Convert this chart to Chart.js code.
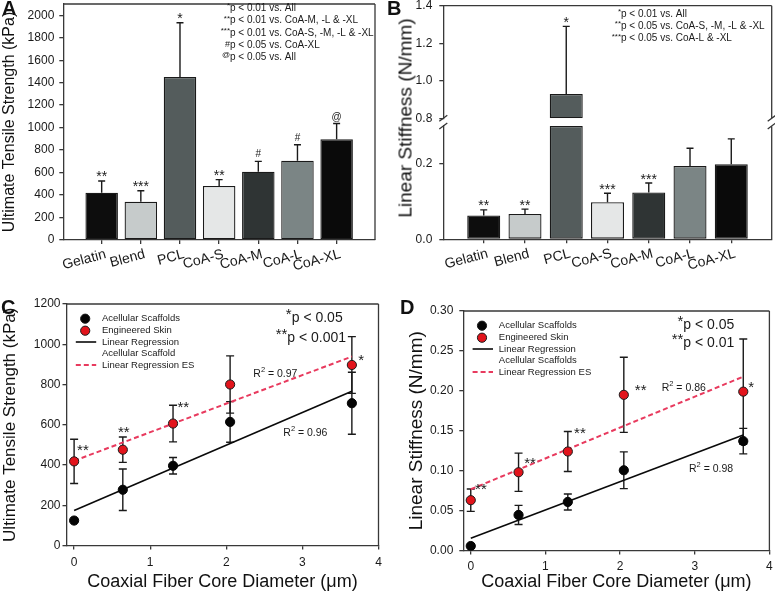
<!DOCTYPE html>
<html lang="en">
<head>
<meta charset="UTF-8">
<title>Coaxial fiber scaffolds - mechanics</title>
<script src="https://cdn.jsdelivr.net/npm/chart.js"></script>
<style>
  body { margin: 0; background: #fff; font-family: 'Liberation Sans', Arial, Helvetica, sans-serif; }
  #fig { position: relative; width: 775px; height: 596px; overflow: hidden; }
  #fig canvas { position: absolute; }
  .tag { position: absolute; font-size: 20px; font-weight: bold; line-height: 1; color: #111; }
  .ytitle { position: absolute; font-size: 19px; line-height: 1; color: #111; white-space: nowrap;
            transform: translate(-50%, -50%) rotate(-90deg); }
</style>
</head>
<body>
<div id="fig">
  <canvas id="panelA" width="385" height="298" style="left:0;top:0"></canvas>
  <canvas id="panelBlow" width="390" height="298" style="left:385px;top:0"></canvas>
  <canvas id="panelBup" width="390" height="298" style="left:385px;top:0"></canvas>
  <canvas id="panelC" width="385" height="298" style="left:0;top:298px"></canvas>
  <canvas id="panelD" width="390" height="298" style="left:385px;top:298px"></canvas>
  <div class="tag" style="left:2px;top:-2px">A</div>
  <div class="tag" style="left:387px;top:-2px">B</div>
  <div class="tag" style="left:1px;top:297px">C</div>
  <div class="tag" style="left:400px;top:297px">D</div>
  <div class="ytitle" style="left:405px;top:118px">Linear Stiffness (N/mm)</div>
</div>

<script>
// ---- data ----
const groups = ['Gelatin', 'Blend', 'PCL', 'CoA-S', 'CoA-M', 'CoA-L', 'CoA-XL'];
const barColors = ['#0d0d0d', '#c6cbcb', '#545c5c', '#e5e7e7', '#2f3434', '#7b8585', '#0a0a0a'];

const utsMean = [420, 340, 1450, 480, 607, 705, 897];
const utsSD = [105, 98, 483, 57, 93, 142, 140];
const utsMarks = ['**', '***', '*', '**', '#', '#', '@'];

const stiffMean = [0.063, 0.067, 0.93, 0.098, 0.124, 0.194, 0.199];
const stiffSD = [0.015, 0.013, 0.36, 0.024, 0.025, 0.047, 0.067];
const stiffMarks = ['**', '**', '*', '***', '***', '', ''];

const coreDiam = [0, 0.64, 1.3, 2.05, 3.65];
const fitX = [0, 3.65];

const utsAcell = [124, 277, 396, 614, 707];
const utsAcellSD = [0, 103, 41, 101, 154];
const utsSkin = [418, 476, 606, 800, 897];
const utsSkinSD = [110, 63, 91, 142, 141];
const utsAcellFit = [174, 767];
const utsSkinFit = [421, 939];
const utsSkinMarks = ['**', '**', '**', '', '*'];

const stiffAcell = [0.0056, 0.0445, 0.0608, 0.1005, 0.137];
const stiffAcellSD = [0, 0.012, 0.010, 0.023, 0.016];
const stiffSkin = [0.063, 0.098, 0.124, 0.195, 0.199];
const stiffSkinSD = [0.014, 0.024, 0.025, 0.047, 0.066];
const stiffAcellFit = [0.0153, 0.1447];
const stiffSkinFit = [0.0767, 0.2178];
const stiffSkinMarks = ['**', '**', '**', '**', '*'];

// ---- look ----
const FONT = "'Liberation Sans', Arial, Helvetica, sans-serif";
const INK = '#1a1a1a';
const AXIS_INK = '#383838';
const RED = '#e2141c';
const RED_LINE = '#e83a5e';

Chart.defaults.font.family = FONT;
Chart.defaults.color = INK;
Chart.defaults.animation = false;
Chart.defaults.responsive = false;
Chart.defaults.plugins.legend.display = false;
Chart.defaults.plugins.tooltip.enabled = false;

const pts = (xs, ys) => xs.map((x, i) => ({ x: x, y: ys[i] }));
const isStars = t => /^\*+$/.test(t);

// error bars drawn through the chart scales
const errorBars = {
  id: 'errorBars',
  beforeDatasetsDraw(chart, args, o) {
    const { ctx } = chart;
    const xs = chart.scales.x, ys = chart.scales.y;
    ctx.save();
    ctx.strokeStyle = INK;
    ctx.lineWidth = 1.4;
    (o.sets || []).forEach(s => {
      s.mean.forEach((m, i) => {
        const sd = s.sd[i];
        if (!sd || m < ys.min || m > ys.max) return;
        const x = xs.getPixelForValue(s.x[i]);
        const yHi = ys.getPixelForValue(m + sd);
        const yLo = ys.getPixelForValue(s.upOnly ? m : m - sd);
        ctx.beginPath();
        ctx.moveTo(x, yLo); ctx.lineTo(x, yHi);
        ctx.moveTo(x - o.cap, yHi); ctx.lineTo(x + o.cap, yHi);
        if (!s.upOnly) { ctx.moveTo(x - o.cap, yLo); ctx.lineTo(x + o.cap, yLo); }
        ctx.stroke();
      });
    });
    ctx.restore();
  }
};

// significance marks (asterisks etc.) placed from data values
const textMarks = {
  id: 'textMarks',
  afterDatasetsDraw(chart, args, o) {
    const { ctx } = chart;
    const xs = chart.scales.x, ys = chart.scales.y;
    ctx.save();
    ctx.fillStyle = INK;
    ctx.textBaseline = 'alphabetic';
    (o.items || []).forEach(it => {
      if (!it.text || it.at < ys.min || it.at > ys.max) return;
      const size = isStars(it.text) ? o.starSize : o.symSize;
      ctx.font = size + 'px ' + FONT;
      ctx.textAlign = it.align || 'center';
      const x = xs.getPixelForValue(it.x) + (it.dx || 0);
      const y = ys.getPixelForValue(it.y) + (it.dy || 0);
      ctx.fillText(it.text, x, y + (isStars(it.text) ? 0.57 : 0.36) * size);
    });
    ctx.restore();
  }
};

// free text lines made of parts [text, size, raise]
const notes = {
  id: 'notes',
  afterDraw(chart, args, o) {
    const { ctx } = chart;
    ctx.save();
    ctx.fillStyle = INK;
    ctx.textBaseline = 'middle';
    ctx.textAlign = 'left';
    (o.lines || []).forEach(l => {
      let w = 0;
      l.parts.forEach((p, k) => {
        if (k < (l.anchor || 0)) { ctx.font = p[1] + 'px ' + FONT; w += ctx.measureText(p[0]).width; }
      });
      let x = l.x - w;
      l.parts.forEach(p => {
        ctx.font = p[1] + 'px ' + FONT;
        ctx.fillText(p[0], x, l.y - (p[2] || 0));
        x += ctx.measureText(p[0]).width;
      });
    });
    ctx.restore();
  }
};

// box around the plot, with optional axis break marks
const frame = {
  id: 'frame',
  afterDatasetsDraw(chart, args, o) {
    const { ctx, chartArea: a } = chart;
    ctx.save();
    ctx.strokeStyle = AXIS_INK;
    ctx.lineWidth = 1.3;
    ctx.beginPath();
    if (o.top) { ctx.moveTo(a.left, a.top); ctx.lineTo(a.right, a.top); }
    ctx.moveTo(a.right, a.top); ctx.lineTo(a.right, a.bottom);
    if (o.breakAt) {
      const y = o.breakAt === 'top' ? a.top : a.bottom;
      [a.left, a.right].forEach(x => { ctx.moveTo(x - 4, y + 3); ctx.lineTo(x + 4, y - 3); });
    }
    ctx.stroke();
    ctx.restore();
  }
};

// legend inside plot area
const legendBox = {
  id: 'legendBox',
  afterDatasetsDraw(chart, args, o) {
    if (!o.rows) return;
    const { ctx, chartArea: a } = chart;
    ctx.save();
    ctx.textBaseline = 'middle';
    ctx.textAlign = 'left';
    o.rows.forEach((r, k) => {
      const y = a.top + o.rowY[k];
      if (r.marker) {
        ctx.beginPath();
        ctx.arc(a.left + o.markX, y, 4.6, 0, Math.PI * 2);
        ctx.fillStyle = r.marker; ctx.fill();
        ctx.lineWidth = 1; ctx.strokeStyle = INK; ctx.stroke();
      }
      if (r.line) {
        ctx.beginPath();
        ctx.setLineDash(r.dash || []);
        ctx.strokeStyle = r.line; ctx.lineWidth = r.width;
        ctx.moveTo(a.left + o.lineX[0], y); ctx.lineTo(a.left + o.lineX[1], y);
        ctx.stroke();
        ctx.setLineDash([]);
      }
      ctx.font = o.size + 'px ' + FONT;
      ctx.fillStyle = INK;
      ctx.fillText(r.text, a.left + o.textX, y);
    });
    ctx.restore();
  }
};

// scales keep the exact size given, no extra label overhang padding
function fixWidth(w) {
  return s => { s.width = w; s.paddingTop = 0; s.paddingBottom = 0; };
}
function fixHeight(h) {
  return s => { s.height = h; s.paddingLeft = 0; s.paddingRight = 0; };
}

function valueAxis(o) {
  return {
    type: 'linear', min: o.min, max: o.max,
    border: { color: AXIS_INK, width: 1.3 },
    grid: { drawOnChartArea: false, tickLength: 4, color: AXIS_INK, lineWidth: 1.3 },
    ticks: { stepSize: o.step, includeBounds: false, padding: o.pad, color: INK, font: { size: 12 }, callback: o.fmt },
    title: o.title
      ? { display: true, text: o.title, color: '#111', font: { size: o.titleSize }, padding: { top: o.titlePad, bottom: 0 } }
      : { display: false },
    afterFit: fixWidth(o.width)
  };
}

function groupAxis(height) {
  return {
    type: 'linear', min: -0.98, max: 6.98, offset: false,
    border: { color: AXIS_INK, width: 1.3 },
    grid: { offset: false, drawOnChartArea: false, tickLength: 4, color: AXIS_INK, lineWidth: 1.3 },
    ticks: {
      stepSize: 1, includeBounds: false, autoSkip: false, minRotation: 15, maxRotation: 15,
      padding: 2, labelOffset: 4, color: INK, font: { size: 14 }, callback: v => groups[Math.round(v)] || ''
    },
    afterFit: fixHeight(height)
  };
}

function diamAxis(height, pad) {
  return {
    type: 'linear', min: -0.1, max: 4,
    border: { color: AXIS_INK, width: 1.3 },
    grid: { drawOnChartArea: false, tickLength: 4, color: AXIS_INK, lineWidth: 1.3 },
    ticks: { stepSize: 1, includeBounds: false, padding: pad, color: INK, font: { size: 12 }, callback: v => String(v) },
    title: { display: true, text: 'Coaxial Fiber Core Diameter (\u03bcm)', color: '#111', font: { size: 18 }, padding: { top: 0, bottom: 3.5 } },
    afterFit: fixHeight(height)
  };
}

const groupIdx = groups.map((g, i) => i);
const barMarkItems = (mean, sd, marks) => groups.map((g, i) => ({ x: i, y: mean[i] + sd[i], at: mean[i], text: marks[i], dy: -7.5 }));

// ---- A: ultimate tensile strength bars ----
new Chart(document.getElementById('panelA'), {
  type: 'bar',
  data: {
    datasets: [{
      data: pts(groupIdx, utsMean),
      backgroundColor: barColors, borderColor: INK, borderWidth: 1.3, borderSkipped: false,
      barPercentage: 0.83, categoryPercentage: 1
    }]
  },
  options: {
    layout: { padding: { top: 4, right: 10, left: 0, bottom: 0 } },
    scales: {
      x: groupAxis(58),
      y: valueAxis({ min: 0, max: 2100, step: 200, pad: 5, width: 63.3, fmt: v => String(v),
                     title: 'Ultimate Tensile Strength (kPa)', titleSize: 16, titlePad: 0.4 })
    },
    plugins: {
      errorBars: { cap: 3.5, sets: [{ x: groupIdx, mean: utsMean, sd: utsSD, upOnly: true }] },
      textMarks: { starSize: 14, symSize: 10, items: barMarkItems(utsMean, utsSD, utsMarks) },
      notes: {
        lines: [
          { x: 230, y: 8, anchor: 1, parts: [['*', 8, 2], ['p < 0.01 vs. All', 10]] },
          { x: 230, y: 20.5, anchor: 1, parts: [['**', 8, 2], ['p < 0.01 vs. CoA-M, -L & -XL', 10]] },
          { x: 230, y: 33, anchor: 1, parts: [['***', 8, 2], ['p < 0.01 vs. CoA-S, -M, -L & -XL', 10]] },
          { x: 230, y: 45, anchor: 1, parts: [['#', 9, 0], ['p < 0.05 vs. CoA-XL', 10]] },
          { x: 230, y: 57, anchor: 1, parts: [['@', 8, 2], ['p < 0.05 vs. All', 10]] }
        ]
      },
      frame: { top: true }
    }
  },
  plugins: [errorBars, textMarks, notes, frame]
});

// ---- B: linear stiffness bars, broken axis (lower part) ----
const lowMax = 0.3;
const highMin = 0.8;
new Chart(document.getElementById('panelBlow'), {
  type: 'bar',
  data: {
    datasets: [{
      data: pts(groupIdx, stiffMean.map(v => Math.min(v, lowMax))),
      backgroundColor: barColors, borderColor: INK, borderWidth: 1.3, borderSkipped: false,
      barPercentage: 0.8, categoryPercentage: 1
    }]
  },
  options: {
    layout: { padding: { top: 126, right: 3.3, left: 0, bottom: 0 } },
    scales: {
      x: groupAxis(58.7),
      y: valueAxis({ min: 0, max: lowMax, step: 0.2, pad: 7, width: 58.3, fmt: v => v.toFixed(1) })
    },
    plugins: {
      errorBars: { cap: 3.5, sets: [{ x: groupIdx, mean: stiffMean, sd: stiffSD, upOnly: true }] },
      textMarks: { starSize: 14, symSize: 10, items: barMarkItems(stiffMean, stiffSD, stiffMarks) },
      frame: { top: false, breakAt: 'top' }
    }
  },
  plugins: [errorBars, textMarks, frame]
});

// ---- B: upper part of the broken axis ----
new Chart(document.getElementById('panelBup'), {
  type: 'bar',
  data: {
    datasets: [{
      data: groupIdx.map(i => ({ x: i, y: stiffMean[i] > highMin ? [highMin, stiffMean[i]] : null })),
      backgroundColor: barColors, borderColor: INK, borderWidth: 1.3, borderSkipped: false,
      barPercentage: 0.8, categoryPercentage: 1
    }]
  },
  options: {
    layout: { padding: { top: 5.7, right: 3.3, left: 0, bottom: 179.7 } },
    scales: {
      x: Object.assign(groupAxis(0), { display: false }),
      y: valueAxis({ min: highMin, max: 1.4, step: 0.2, pad: 7, width: 58.3, fmt: v => v.toFixed(1) })
    },
    plugins: {
      errorBars: { cap: 3.5, sets: [{ x: groupIdx, mean: stiffMean, sd: stiffSD, upOnly: true }] },
      textMarks: { starSize: 14, symSize: 10, items: barMarkItems(stiffMean, stiffSD, stiffMarks) },
      notes: {
        lines: [
          { x: 236, y: 14, anchor: 1, parts: [['*', 8, 2], ['p < 0.01 vs. All', 10]] },
          { x: 236, y: 26, anchor: 1, parts: [['**', 8, 2], ['p < 0.05 vs. CoA-S, -M, -L & -XL', 10]] },
          { x: 236, y: 38.3, anchor: 1, parts: [['***', 8, 2], ['p < 0.05 vs. CoA-L & -XL', 10]] }
        ]
      },
      frame: { top: true, breakAt: 'bottom' }
    }
  },
  plugins: [errorBars, textMarks, notes, frame]
});

// ---- C / D: scatter with regression lines ----
function legendRows(acellText) {
  return [
    { text: 'Acellular Scaffolds', marker: '#050505' },
    { text: 'Engineered Skin', marker: RED },
    { text: 'Linear Regression', line: '#0a0a0a', width: 1.6 },
    { text: acellText },
    { text: 'Linear Regression ES', line: RED_LINE, width: 2, dash: [5, 3] }
  ];
}

function scatterSets(acell, skin, acellFit, skinFit) {
  return [
    { data: pts(coreDiam, acell), pointRadius: 4.6, pointBackgroundColor: '#050505', pointBorderColor: '#050505', pointBorderWidth: 1, order: 0 },
    { data: pts(coreDiam, skin), pointRadius: 4.6, pointBackgroundColor: RED, pointBorderColor: INK, pointBorderWidth: 1, order: 0 },
    { data: pts(fitX, acellFit), showLine: true, pointRadius: 0, borderColor: '#0a0a0a', borderWidth: 1.6, order: 1 },
    { data: pts(fitX, skinFit), showLine: true, pointRadius: 0, borderColor: RED_LINE, borderWidth: 2, borderDash: [5, 3], order: 1 }
  ];
}

const cMarkPlace = [
  { ref: 'top', dx: 3, dy: 7.5, align: 'left' },
  { ref: 'top', dx: 1, dy: -9, align: 'center' },
  { ref: 'top', dx: 4.5, dy: -1.7, align: 'left' },
  null,
  { ref: 'pt', dx: 6.5, dy: -8.5, align: 'left' }
];
const dMarkPlace = [
  { ref: 'top', dx: 4.3, dy: -3.3, align: 'left' },
  { ref: 'top', dx: 5.7, dy: 6, align: 'left' },
  { ref: 'top', dx: 6.3, dy: -2, align: 'left' },
  { ref: 'pt', dx: 11, dy: -8.3, align: 'left' },
  { ref: 'pt', dx: 5, dy: -8.4, align: 'left' }
];
const pointMarkItems = (mean, sd, marks, place) => coreDiam.map((x, i) => {
  const p = place[i] || {};
  return { x: x, y: p.ref === 'top' ? mean[i] + sd[i] : mean[i], at: mean[i], text: marks[i], dx: p.dx, dy: p.dy, align: p.align };
});

const legendLayout = { size: 9.5, markX: 18.7, lineX: [9.3, 29.7], textX: 35.5, rowY: [14.7, 26.7, 38, 49.7, 61] };

new Chart(document.getElementById('panelC'), {
  type: 'scatter',
  data: { datasets: scatterSets(utsAcell, utsSkin, utsAcellFit, utsSkinFit) },
  options: {
    layout: { padding: { top: 6, right: 6.5, left: 0, bottom: 0 } },
    scales: {
      x: diamAxis(50.5, 6),
      y: valueAxis({ min: 0, max: 1200, step: 200, pad: 2, width: 66.5, fmt: v => String(v),
                     title: 'Ultimate Tensile Strength (kPa)', titleSize: 17, titlePad: 0.3 })
    },
    plugins: {
      errorBars: { cap: 4, sets: [
        { x: coreDiam, mean: utsAcell, sd: utsAcellSD },
        { x: coreDiam, mean: utsSkin, sd: utsSkinSD }
      ] },
      textMarks: { starSize: 15, symSize: 10, items: pointMarkItems(utsSkin, utsSkinSD, utsSkinMarks, cMarkPlace) },
      legendBox: Object.assign({ rows: legendRows('Acellular Scaffold') }, legendLayout),
      notes: {
        lines: [
          { x: 291.7, y: 20.3, anchor: 1, parts: [['*', 15, 3], ['p < 0.05', 14]] },
          { x: 287.3, y: 40.3, anchor: 1, parts: [['**', 15, 3], ['p < 0.001', 14]] },
          { x: 253.3, y: 76, parts: [['R', 10.5], ['2', 7.5, 4], [' = 0.97', 10.5]] },
          { x: 283.3, y: 135.3, parts: [['R', 10.5], ['2', 7.5, 4], [' = 0.96', 10.5]] }
        ]
      },
      frame: { top: true }
    }
  },
  plugins: [errorBars, textMarks, legendBox, notes, frame]
});

new Chart(document.getElementById('panelD'), {
  type: 'scatter',
  data: { datasets: scatterSets(stiffAcell, stiffSkin, stiffAcellFit, stiffSkinFit) },
  options: {
    layout: { padding: { top: 13, right: 4, left: 0, bottom: 0 } },
    scales: {
      x: diamAxis(45.5, 5),
      y: valueAxis({ min: 0, max: 0.3, step: 0.05, pad: 6, width: 78.3, fmt: v => v.toFixed(2),
                     title: 'Linear Stiffness (N/mm)', titleSize: 19, titlePad: 20.3 })
    },
    plugins: {
      errorBars: { cap: 4, sets: [
        { x: coreDiam, mean: stiffAcell, sd: stiffAcellSD },
        { x: coreDiam, mean: stiffSkin, sd: stiffSkinSD }
      ] },
      textMarks: { starSize: 15, symSize: 10, items: pointMarkItems(stiffSkin, stiffSkinSD, stiffSkinMarks, dMarkPlace) },
      legendBox: Object.assign({ rows: legendRows('Acellular Scaffolds') }, legendLayout),
      notes: {
        lines: [
          { x: 298.3, y: 27, anchor: 1, parts: [['*', 15, 3], ['p < 0.05', 14]] },
          { x: 298.3, y: 45.3, anchor: 1, parts: [['**', 15, 3], ['p < 0.01', 14]] },
          { x: 276.7, y: 90.3, parts: [['R', 10.5], ['2', 7.5, 4], [' = 0.86', 10.5]] },
          { x: 304, y: 171.3, parts: [['R', 10.5], ['2', 7.5, 4], [' = 0.98', 10.5]] }
        ]
      },
      frame: { top: true }
    }
  },
  plugins: [errorBars, textMarks, legendBox, notes, frame]
});
</script>
</body>
</html>
